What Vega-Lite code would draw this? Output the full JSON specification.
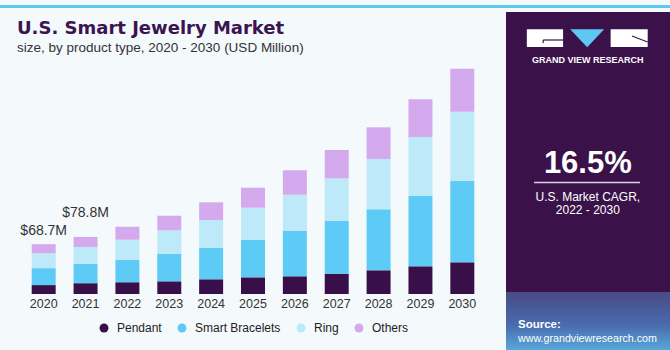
{
  "$schema": "https://vega.github.io/schema/vega-lite/v6.json",
  "background": "#f4f9fc",
  "padding": 0,
  "spacing": 0,
  "config": {"view": {"stroke": null}, "font": "Liberation Sans"},
  "datasets": {
    "market": [
      {"year": 2020, "type": "Pendant", "value": 12.3},
      {"year": 2020, "type": "Smart Bracelets", "value": 23.4},
      {"year": 2020, "type": "Ring", "value": 20.6},
      {"year": 2020, "type": "Others", "value": 12.4},
      {"year": 2021, "type": "Pendant", "value": 14.9},
      {"year": 2021, "type": "Smart Bracelets", "value": 26.8},
      {"year": 2021, "type": "Ring", "value": 23.2},
      {"year": 2021, "type": "Others", "value": 13.9},
      {"year": 2022, "type": "Pendant", "value": 16.1},
      {"year": 2022, "type": "Smart Bracelets", "value": 30.8},
      {"year": 2022, "type": "Ring", "value": 28.0},
      {"year": 2022, "type": "Others", "value": 17.9},
      {"year": 2023, "type": "Pendant", "value": 17.5},
      {"year": 2023, "type": "Smart Bracelets", "value": 38.1},
      {"year": 2023, "type": "Ring", "value": 32.3},
      {"year": 2023, "type": "Others", "value": 20.1},
      {"year": 2024, "type": "Pendant", "value": 20.3},
      {"year": 2024, "type": "Smart Bracelets", "value": 43.2},
      {"year": 2024, "type": "Ring", "value": 38.6},
      {"year": 2024, "type": "Others", "value": 24.4},
      {"year": 2025, "type": "Pendant", "value": 23.0},
      {"year": 2025, "type": "Smart Bracelets", "value": 51.5},
      {"year": 2025, "type": "Ring", "value": 44.6},
      {"year": 2025, "type": "Others", "value": 27.6},
      {"year": 2026, "type": "Pendant", "value": 24.4},
      {"year": 2026, "type": "Smart Bracelets", "value": 62.5},
      {"year": 2026, "type": "Ring", "value": 50.1},
      {"year": 2026, "type": "Others", "value": 33.7},
      {"year": 2027, "type": "Pendant", "value": 28.0},
      {"year": 2027, "type": "Smart Bracelets", "value": 72.7},
      {"year": 2027, "type": "Ring", "value": 58.9},
      {"year": 2027, "type": "Others", "value": 39.1},
      {"year": 2028, "type": "Pendant", "value": 32.7},
      {"year": 2028, "type": "Smart Bracelets", "value": 84.2},
      {"year": 2028, "type": "Ring", "value": 69.4},
      {"year": 2028, "type": "Others", "value": 43.7},
      {"year": 2029, "type": "Pendant", "value": 38.2},
      {"year": 2029, "type": "Smart Bracelets", "value": 97.0},
      {"year": 2029, "type": "Ring", "value": 81.4},
      {"year": 2029, "type": "Others", "value": 52.0},
      {"year": 2030, "type": "Pendant", "value": 43.7},
      {"year": 2030, "type": "Smart Bracelets", "value": 112.2},
      {"year": 2030, "type": "Ring", "value": 95.6},
      {"year": 2030, "type": "Others", "value": 59.3}
    ]
  },
  "resolve": {"scale": {"color": "independent", "x": "independent", "y": "independent"}, "legend": {"color": "independent"}},
  "hconcat": [
    {
      "spacing": 8,
      "resolve": {"scale": {"color": "independent", "x": "independent", "y": "independent"}, "legend": {"color": "independent"}},
      "vconcat": [
        {
          "width": 506, "height": 3,
          "view": {"fill": "#5ec8ef", "stroke": null},
          "data": {"values": [{}]},
          "mark": {"type": "text"},
          "encoding": {"text": {"value": ""}}
        },
        {
          "width": 506, "height": 234,
          "data": {"name": "market"},
          "title": {
            "text": "U.S. Smart Jewelry Market",
            "subtitle": "size, by product type, 2020 - 2030 (USD Million)",
            "anchor": "start", "dx": 17,
            "font": "DejaVu Sans", "fontSize": 18, "fontWeight": "bold", "color": "#3b1452",
            "subtitleFont": "Liberation Sans", "subtitleFontSize": 13.5, "subtitleColor": "#333333",
            "subtitlePadding": 3, "offset": 5.5
          },
          "encoding": {
            "x": {
              "field": "year", "type": "ordinal",
              "scale": {"paddingInner": 0.427, "paddingOuter": 0.757},
              "axis": {"title": null, "domain": false, "ticks": false, "labelAngle": 0, "labelPadding": 3, "labelFontSize": 12.5, "labelColor": "#333333", "labelFont": "Liberation Sans"}
            }
          },
          "layer": [
            {
              "transform": [
                {"calculate": "indexof(['Pendant', 'Smart Bracelets', 'Ring', 'Others'], datum.type)", "as": "stackOrder"}
              ],
              "mark": {"type": "bar"},
              "encoding": {
                "y": {"field": "value", "type": "quantitative", "stack": "zero", "scale": {"domain": [0, 322.9], "nice": false}, "axis": null},
                "color": {
                  "field": "type", "type": "nominal",
                  "sort": ["Pendant", "Smart Bracelets", "Ring", "Others"],
                  "scale": {"domain": ["Pendant", "Smart Bracelets", "Ring", "Others"], "range": ["#380f48", "#5ecbf6", "#bde9f9", "#d5a9ee"]},
                  "legend": {"orient": "none", "legendX": 98, "legendY": 262, "direction": "horizontal", "title": null, "symbolType": "circle", "symbolSize": 80, "symbolStrokeWidth": 0, "symbolOpacity": 1, "labelFontSize": 12, "labelColor": "#222222", "labelFont": "Liberation Sans", "labelOffset": 7, "columnPadding": 14}
                },
                "order": {"field": "stackOrder", "type": "quantitative", "sort": "ascending"}
              }
            },
            {
              "transform": [
                {"aggregate": [{"op": "sum", "field": "value", "as": "total"}], "groupby": ["year"]},
                {"filter": "datum.year == 2020"},
                {"calculate": "'$' + format(datum.total, '.1f') + 'M'", "as": "label"}
              ],
              "mark": {"type": "text", "dy": -13, "baseline": "middle", "fontSize": 14, "color": "#333333", "font": "Liberation Sans"},
              "encoding": {"y": {"field": "total", "type": "quantitative"}, "text": {"field": "label"}}
            },
            {
              "transform": [
                {"aggregate": [{"op": "sum", "field": "value", "as": "total"}], "groupby": ["year"]},
                {"filter": "datum.year == 2021"},
                {"calculate": "'$' + format(datum.total, '.1f') + 'M'", "as": "label"}
              ],
              "mark": {"type": "text", "dy": -24, "baseline": "middle", "fontSize": 14, "color": "#333333", "font": "Liberation Sans"},
              "encoding": {"y": {"field": "total", "type": "quantitative"}, "text": {"field": "label"}}
            }
          ]
        }
      ]
    },
    {
      "spacing": 0,
      "vconcat": [
        {
          "width": 164, "height": 3,
          "view": {"fill": "#5ec8ef", "stroke": null},
          "data": {"values": [{}]},
          "mark": {"type": "text"},
          "encoding": {"text": {"value": ""}}
        },
        {
          "width": 164, "height": 347,
          "view": {"fill": "#3a1249", "stroke": null},
          "data": {"values": [{}]},
          "layer": [
            {
              "mark": {"type": "rect", "fill": {"gradient": "linear", "x1": 0, "y1": 0, "x2": 0, "y2": 1, "stops": [{"offset": 0, "color": "#4a4a86"}, {"offset": 0.5, "color": "#4a6cae"}, {"offset": 1, "color": "#5cbde9"}]}},
              "encoding": {
                "x": {"datum": 0, "type": "quantitative", "scale": {"domain": [0, 1]}, "axis": null},
                "x2": {"datum": 1},
                "y": {"datum": 0.193, "type": "quantitative", "scale": {"domain": [0, 1]}, "axis": null},
                "y2": {"datum": 0}
              }
            },
            {
              "mark": {"type": "rect", "fill": "#ffffff"},
              "encoding": {
                "x": {"datum": 0.127, "type": "quantitative"}, "x2": {"datum": 0.348},
                "y": {"datum": 0.899, "type": "quantitative"}, "y2": {"datum": 0.950}
              }
            },
            {
              "mark": {"type": "rect", "fill": "#ffffff"},
              "encoding": {
                "x": {"datum": 0.638, "type": "quantitative"}, "x2": {"datum": 0.864},
                "y": {"datum": 0.899, "type": "quantitative"}, "y2": {"datum": 0.950}
              }
            },
            {
              "mark": {"type": "point", "shape": "M-1,-0.53L1,-0.53L0,0.53Z", "size": 1156, "filled": true, "fill": "#5ec8f2", "opacity": 1, "strokeWidth": 0},
              "encoding": {"x": {"datum": 0.495, "type": "quantitative"}, "y": {"datum": 0.9245, "type": "quantitative"}}
            },
            {
              "mark": {"type": "rule", "color": "#3a1249", "strokeWidth": 1.2},
              "encoding": {"x": {"datum": 0.2268, "type": "quantitative"}, "x2": {"datum": 0.348}, "y": {"datum": 0.9193, "type": "quantitative"}, "y2": {"datum": 0.9193}}
            },
            {
              "mark": {"type": "rule", "color": "#3a1249", "strokeWidth": 1.2},
              "encoding": {"x": {"datum": 0.2268, "type": "quantitative"}, "x2": {"datum": 0.2268}, "y": {"datum": 0.9193, "type": "quantitative"}, "y2": {"datum": 0.9107}}
            },
            {
              "mark": {"type": "rule", "color": "#3a1249", "strokeWidth": 1.2},
              "encoding": {"x": {"datum": 0.768, "type": "quantitative"}, "x2": {"datum": 0.864}, "y": {"datum": 0.9308, "type": "quantitative"}, "y2": {"datum": 0.9135}}
            },
            {
              "mark": {"type": "text", "text": "GRAND VIEW RESEARCH", "fontSize": 9, "fontWeight": "bold", "letterSpacing": 1.7, "color": "#ffffff", "align": "center", "baseline": "middle", "font": "Liberation Sans"},
              "encoding": {"x": {"datum": 0.499, "type": "quantitative"}, "y": {"datum": 0.861, "type": "quantitative"}}
            },
            {
              "mark": {"type": "text", "text": "16.5%", "fontSize": 31, "fontWeight": "bold", "color": "#ffffff", "align": "center", "baseline": "middle", "font": "Liberation Sans"},
              "encoding": {"x": {"datum": 0.499, "type": "quantitative"}, "y": {"datum": 0.562, "type": "quantitative"}}
            },
            {
              "mark": {"type": "rule", "color": "#d8d0e0", "strokeWidth": 1.5},
              "encoding": {"x": {"datum": 0.171, "type": "quantitative"}, "x2": {"datum": 0.817}, "y": {"datum": 0.509, "type": "quantitative"}, "y2": {"datum": 0.509}}
            },
            {
              "mark": {"type": "text", "text": "U.S. Market CAGR,", "fontSize": 12, "color": "#ffffff", "align": "center", "baseline": "middle", "font": "Liberation Sans"},
              "encoding": {"x": {"datum": 0.499, "type": "quantitative"}, "y": {"datum": 0.4677, "type": "quantitative"}}
            },
            {
              "mark": {"type": "text", "text": "2022 - 2030", "fontSize": 12, "color": "#ffffff", "align": "center", "baseline": "middle", "font": "Liberation Sans"},
              "encoding": {"x": {"datum": 0.499, "type": "quantitative"}, "y": {"datum": 0.4294, "type": "quantitative"}}
            },
            {
              "mark": {"type": "text", "text": "Source:", "fontSize": 11.5, "fontWeight": "bold", "color": "#ffffff", "align": "left", "baseline": "middle", "font": "Liberation Sans"},
              "encoding": {"x": {"datum": 0.073, "type": "quantitative"}, "y": {"datum": 0.0988, "type": "quantitative"}}
            },
            {
              "mark": {"type": "text", "text": "www.grandviewresearch.com", "fontSize": 10.7, "color": "#ffffff", "align": "left", "baseline": "middle", "font": "Liberation Sans"},
              "encoding": {"x": {"datum": 0.073, "type": "quantitative"}, "y": {"datum": 0.0576, "type": "quantitative"}}
            }
          ]
        }
      ]
    }
  ]
}
